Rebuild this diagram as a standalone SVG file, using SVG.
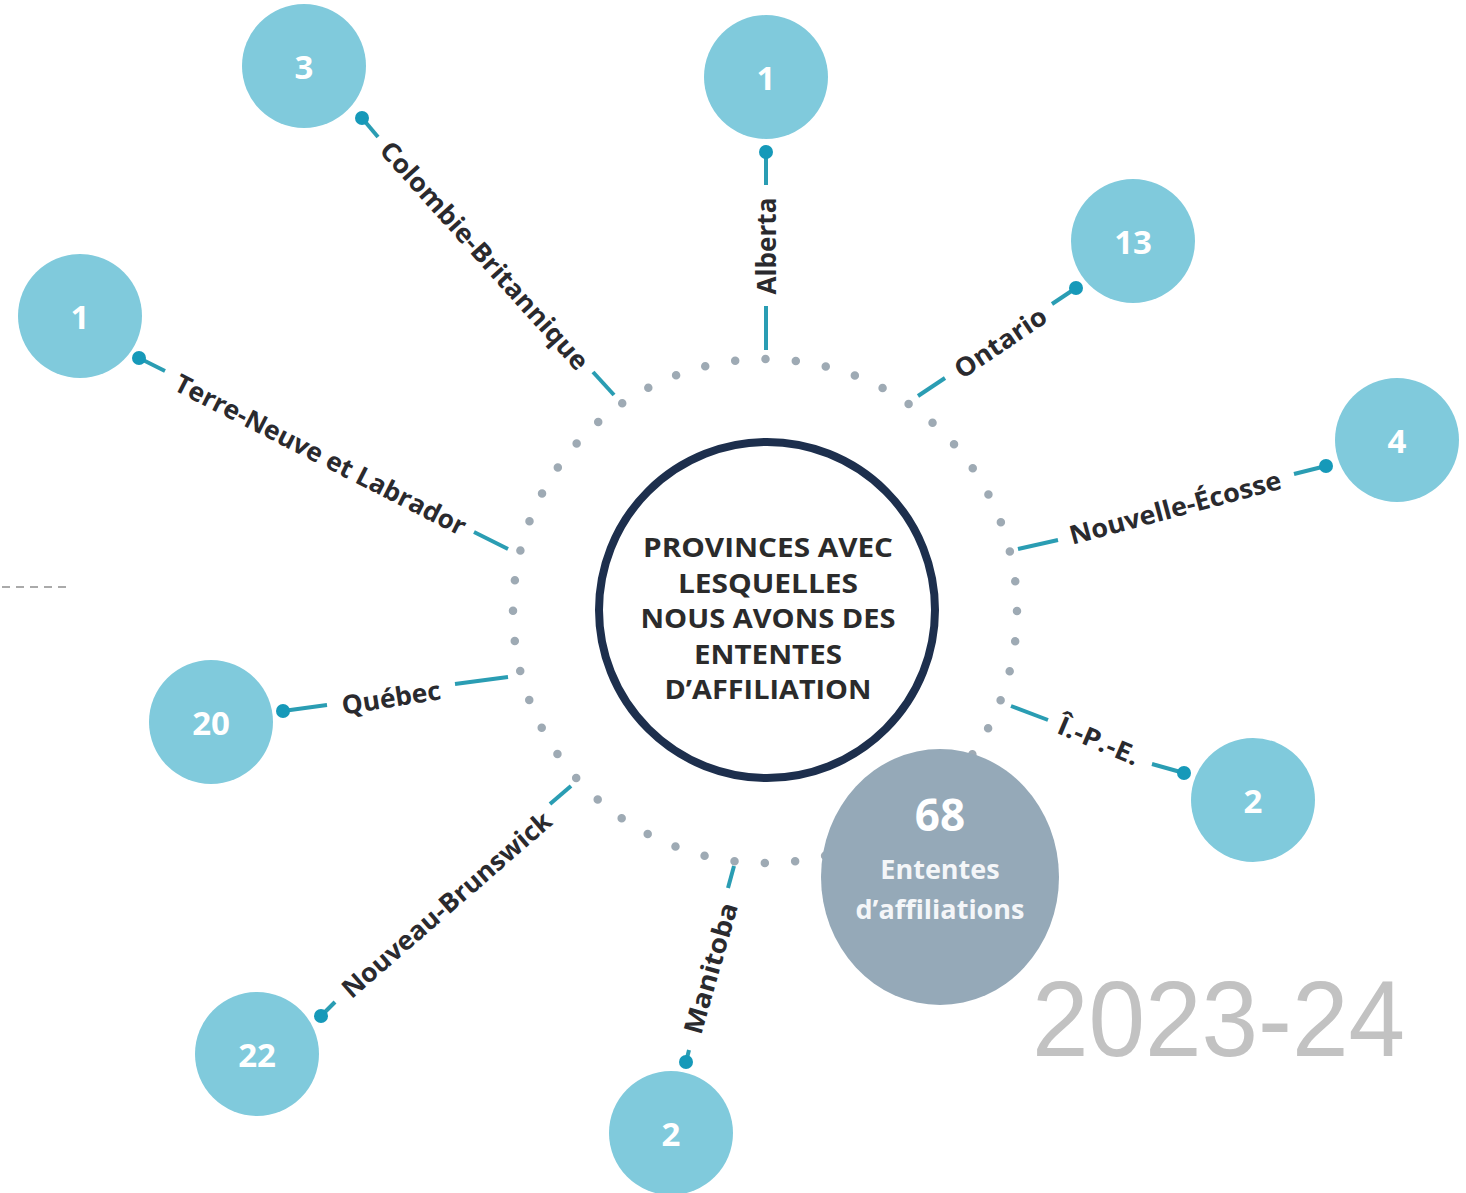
<svg xmlns="http://www.w3.org/2000/svg" width="1466" height="1193" viewBox="0 0 1466 1193">
<style>
.sat{fill:#80cadc}
.num{fill:#ffffff;font-family:"Open Sans","Liberation Sans",sans-serif;font-weight:700;font-size:33px;text-anchor:middle;dominant-baseline:central}
.lbl{fill:#2a2a2e;font-family:"Open Sans","Liberation Sans",sans-serif;font-weight:700;font-size:26px;text-anchor:middle;dominant-baseline:central}
.ln{stroke:#2a9db3;stroke-width:4;stroke-linecap:butt;fill:none}
.dot{fill:#1699b9}
.ctr{fill:#2b2b2b;font-family:"Open Sans","Liberation Sans",sans-serif;font-weight:700;font-size:26px;text-anchor:middle}
</style>
<rect width="1466" height="1193" fill="#ffffff"/>
<line x1="2" y1="587" x2="68" y2="587" stroke="#aaaaaa" stroke-width="2" stroke-dasharray="8 6"/>
<g id="ring">
<circle cx="765" cy="611" r="252" fill="none" stroke="#9eaab4" stroke-width="8.5" stroke-linecap="round" stroke-dasharray="0 30.45"/>
</g>
<g id="center">
<circle cx="767" cy="610" r="168" fill="#ffffff" stroke="#1d2f4d" stroke-width="8"/>
<text class="ctr" x="768" y="557" textLength="250" lengthAdjust="spacingAndGlyphs">PROVINCES AVEC</text>
<text class="ctr" x="768" y="593" textLength="180" lengthAdjust="spacingAndGlyphs">LESQUELLES</text>
<text class="ctr" x="768" y="628" textLength="255" lengthAdjust="spacingAndGlyphs">NOUS AVONS DES</text>
<text class="ctr" x="768" y="664" textLength="148" lengthAdjust="spacingAndGlyphs">ENTENTES</text>
<text class="ctr" x="768" y="699" textLength="207" lengthAdjust="spacingAndGlyphs">D’AFFILIATION</text>
</g>
<g id="connectors">
<line class="ln" x1="362" y1="118" x2="378" y2="137"/>
<line class="ln" x1="593" y1="372" x2="614" y2="395"/>
<circle class="dot" cx="362" cy="118" r="7"/>
<line class="ln" x1="766" y1="152" x2="766" y2="185"/>
<line class="ln" x1="766" y1="306" x2="766" y2="350"/>
<circle class="dot" cx="766" cy="152" r="7"/>
<line class="ln" x1="1076" y1="288" x2="1052" y2="304"/>
<line class="ln" x1="945" y1="378" x2="918" y2="396"/>
<circle class="dot" cx="1076" cy="288" r="7"/>
<line class="ln" x1="1326" y1="466" x2="1294" y2="474"/>
<line class="ln" x1="1058" y1="540" x2="1018" y2="549"/>
<circle class="dot" cx="1326" cy="466" r="7"/>
<line class="ln" x1="139" y1="358" x2="165" y2="371"/>
<line class="ln" x1="474" y1="532" x2="508" y2="549"/>
<circle class="dot" cx="139" cy="358" r="7"/>
<line class="ln" x1="283" y1="711" x2="327" y2="705"/>
<line class="ln" x1="455" y1="684" x2="508" y2="677"/>
<circle class="dot" cx="283" cy="711" r="7"/>
<line class="ln" x1="1011" y1="706" x2="1048" y2="720"/>
<line class="ln" x1="1152" y1="764" x2="1184" y2="773"/>
<circle class="dot" cx="1184" cy="773" r="7"/>
<line class="ln" x1="321" y1="1016" x2="335" y2="1002"/>
<line class="ln" x1="550" y1="804" x2="571" y2="786"/>
<circle class="dot" cx="321" cy="1016" r="7"/>
<line class="ln" x1="686" y1="1062" x2="689" y2="1050"/>
<line class="ln" x1="728" y1="888" x2="734" y2="866"/>
<circle class="dot" cx="686" cy="1062" r="7"/>
</g>
<g id="labels">
<text class="lbl" transform="translate(485,255) rotate(48)" textLength="297" lengthAdjust="spacingAndGlyphs">Colombie-Britannique</text>
<text class="lbl" transform="translate(766,246) rotate(-90)" textLength="97" lengthAdjust="spacingAndGlyphs">Alberta</text>
<text class="lbl" transform="translate(1000,342) rotate(-34)" textLength="105" lengthAdjust="spacingAndGlyphs">Ontario</text>
<text class="lbl" transform="translate(1175,507) rotate(-15)" textLength="218" lengthAdjust="spacingAndGlyphs">Nouvelle-Écosse</text>
<text class="lbl" transform="translate(321,454) rotate(27)" textLength="323" lengthAdjust="spacingAndGlyphs">Terre-Neuve et Labrador</text>
<text class="lbl" transform="translate(391,697) rotate(-9)" textLength="100" lengthAdjust="spacingAndGlyphs">Québec</text>
<text class="lbl" transform="translate(1099,740) rotate(23)" textLength="86" lengthAdjust="spacingAndGlyphs">Î.-P.-E.</text>
<text class="lbl" transform="translate(446,904) rotate(-41)" textLength="268" lengthAdjust="spacingAndGlyphs">Nouveau-Brunswick</text>
<text class="lbl" transform="translate(710,968) rotate(-74)" textLength="135" lengthAdjust="spacingAndGlyphs">Manitoba</text>
</g>
<g id="node-cb"><circle class="sat" cx="304" cy="66" r="62"/><text class="num" x="304" y="66">3</text></g>
<g id="node-ab"><circle class="sat" cx="766" cy="77" r="62"/><text class="num" x="766" y="77">1</text></g>
<g id="node-on"><circle class="sat" cx="1133" cy="241" r="62"/><text class="num" x="1133" y="241">13</text></g>
<g id="node-ne"><circle class="sat" cx="1397" cy="440" r="62"/><text class="num" x="1397" y="440">4</text></g>
<g id="node-tn"><circle class="sat" cx="80" cy="316" r="62"/><text class="num" x="80" y="316">1</text></g>
<g id="node-qc"><circle class="sat" cx="211" cy="722" r="62"/><text class="num" x="211" y="722">20</text></g>
<g id="node-ipe"><circle class="sat" cx="1253" cy="800" r="62"/><text class="num" x="1253" y="800">2</text></g>
<g id="node-nb"><circle class="sat" cx="257" cy="1054" r="62"/><text class="num" x="257" y="1054">22</text></g>
<g id="node-mb"><circle class="sat" cx="671" cy="1133" r="62"/><text class="num" x="671" y="1133">2</text></g>
<g id="total">
<ellipse cx="940" cy="877" rx="119" ry="128" fill="#95a9b8"/>
<text x="940" y="831" fill="#ffffff" font-family="'Open Sans','Liberation Sans',sans-serif" font-weight="700" font-size="44" text-anchor="middle">68</text>
<text x="940" y="879" fill="#f4f6f8" font-family="'Open Sans','Liberation Sans',sans-serif" font-weight="700" font-size="27" text-anchor="middle">Ententes</text>
<text x="940" y="919" fill="#f4f6f8" font-family="'Open Sans','Liberation Sans',sans-serif" font-weight="700" font-size="27" text-anchor="middle">d’affiliations</text>
</g>
<text x="1032" y="1056" fill="#c2c2c2" font-family="'Liberation Sans',Arial,sans-serif" font-size="108" textLength="373" lengthAdjust="spacingAndGlyphs">2023-24</text>
</svg>
